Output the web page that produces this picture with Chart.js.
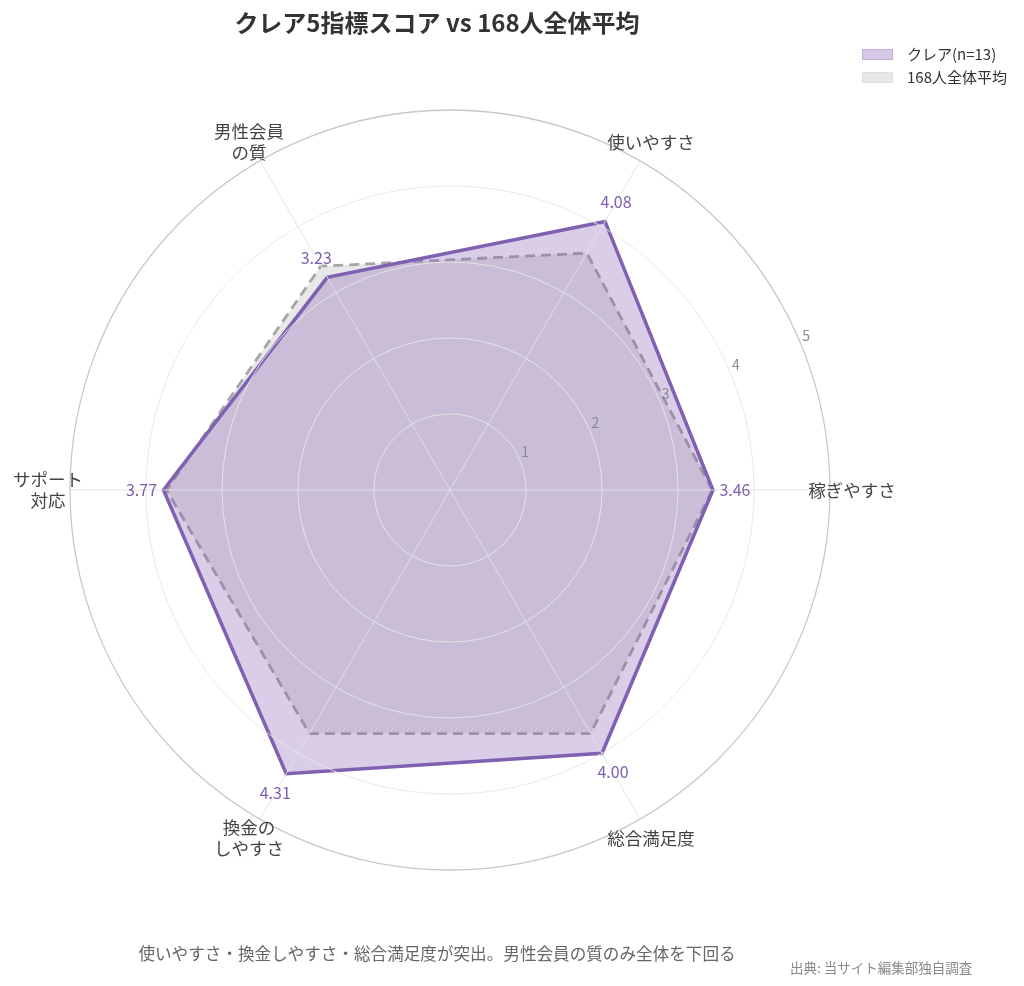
<!DOCTYPE html>
<html lang="ja">
<head>
<meta charset="utf-8">
<title>クレア5指標スコア vs 168人全体平均</title>
<script src="https://cdn.jsdelivr.net/npm/chart.js@4.4.1/dist/chart.umd.min.js"></script>
<style>
    body { margin: 0; background: #fff; font-family: "Noto Sans CJK JP", "Noto Sans", sans-serif; }
    .wrap { position: relative; width: 1024px; height: 986px; overflow: hidden; }
    .wrap canvas { position: absolute; left: 0; top: 0; }
    .title { position: absolute; left: 0; width: 874px; top: 4px; text-align: center; font-size: 24px; font-weight: bold; color: #333; }
    .legend { position: absolute; left: 862px; top: 43px; font-size: 15px; color: #333; }
    .legend div { height: 23px; line-height: 21px; white-space: nowrap; }
    .legend span.box { display: inline-block; width: 29px; height: 9px; margin-right: 14px; vertical-align: middle; position: relative; top: -1px; }
    .caption { position: absolute; left: 0; width: 874px; top: 941px; text-align: center; font-size: 16.6px; color: #666; }
    .source { position: absolute; left: 790px; top: 957px; font-size: 13.5px; color: #888; }
</style>
</head>
<body>
<div class="wrap">
    <canvas id="radarChart" width="1024" height="986"></canvas>
    <div class="title">クレア5指標スコア vs 168人全体平均</div>
    <div class="legend">
        <div><span class="box" style="background:#d6c9e6; border:1px solid #c3aee0;"></span>クレア(n=13)</div>
        <div><span class="box" style="background:#e8e8e8; border:1px solid #dedede;"></span>168人全体平均</div>
    </div>
    <div class="caption">使いやすさ・換金しやすさ・総合満足度が突出。男性会員の質のみ全体を下回る</div>
    <div class="source">出典: 当サイト編集部独自調査</div>
</div>
<script>
// --- Data (clockwise from the right-hand axis) ---
const axisLabels = [
    ['稼ぎやすさ'],
    ['総合満足度'],
    ['換金の', 'しやすさ'],
    ['サポート', '対応'],
    ['男性会員', 'の質'],
    ['使いやすさ']
];
const claireScores = [3.46, 4.00, 4.31, 3.77, 3.23, 4.08];
const averageScores = [3.45, 3.70, 3.70, 3.73, 3.40, 3.60];
const tickValues = [1, 2, 3, 4, 5];

const purple = '#8060b0';
const fontFamily = '"Noto Sans CJK JP", "Noto Sans", sans-serif';

// --- Text drawn on top of the radar (axis names, values, ticks) ---
const radarText = {
    id: 'radarText',
    afterDraw(chart) {
        const scale = chart.scales.r;
        const ctx = chart.ctx;
        ctx.save();
        ctx.textAlign = 'center';
        ctx.textBaseline = 'middle';

        // axis names
        ctx.fillStyle = '#444';
        ctx.font = '17.5px ' + fontFamily;
        axisLabels.forEach((lines, i) => {
            const p = scale.getPointPosition(i, scale.drawingArea + 22);
            const lh = 21;
            lines.forEach((line, j) => {
                ctx.fillText(line, p.x, p.y + (j - (lines.length - 1) / 2) * lh);
            });
        });

        // value labels for クレア
        ctx.fillStyle = purple;
        ctx.font = '16px ' + fontFamily;
        claireScores.forEach((v, i) => {
            const p = scale.getPointPosition(i, scale.getDistanceFromCenterForValue(v) + 22);
            ctx.fillText(v.toFixed(2), p.x, p.y);
        });

        // radial tick labels
        ctx.fillStyle = '#8a8a8a';
        ctx.font = '14px ' + fontFamily;
        const a = 22.5 * Math.PI / 180;
        tickValues.forEach(t => {
            const d = scale.getDistanceFromCenterForValue(t);
            ctx.fillText(String(t), scale.xCenter + d * Math.cos(a) + 5, scale.yCenter - d * Math.sin(a) - 9);
        });
        ctx.restore();
    }
};

new Chart(document.getElementById('radarChart'), {
    type: 'radar',
    data: {
        labels: axisLabels,
        datasets: [
            {
                label: 'クレア(n=13)',
                data: claireScores,
                borderColor: purple,
                backgroundColor: 'rgba(128, 90, 180, 0.30)',
                borderWidth: 3.5,
                pointRadius: 0,
                fill: true
            },
            {
                label: '168人全体平均',
                data: averageScores,
                borderColor: '#a6a6a6',
                backgroundColor: 'rgba(190, 190, 190, 0.35)',
                borderWidth: 2.8,
                borderDash: [10, 6],
                pointRadius: 0,
                fill: true
            }
        ]
    },
    options: {
        responsive: false,
        animation: false,
        devicePixelRatio: 1,
        layout: { padding: { left: 70, top: 110, right: 194, bottom: 116 } },
        elements: { line: { tension: 0 } },
        plugins: {
            legend: { display: false },
            title: { display: false },
            tooltip: { enabled: false }
        },
        scales: {
            r: {
                min: 0,
                max: 5,
                startAngle: 90,
                ticks: { display: false, stepSize: 1 },
                pointLabels: { display: false },
                grid: {
                    circular: true,
                    z: 1,
                    lineWidth: ctx => ctx.tick && ctx.tick.value === 5 ? 1.3 : 1,
                    color: ctx => ctx.tick && ctx.tick.value === 5 ? '#c8c8c8' : 'rgba(232, 232, 232, 0.9)'
                },
                angleLines: { color: 'rgba(225, 225, 225, 0.9)', lineWidth: 1 }
            }
        }
    },
    plugins: [radarText]
});
</script>
</body>
</html>
